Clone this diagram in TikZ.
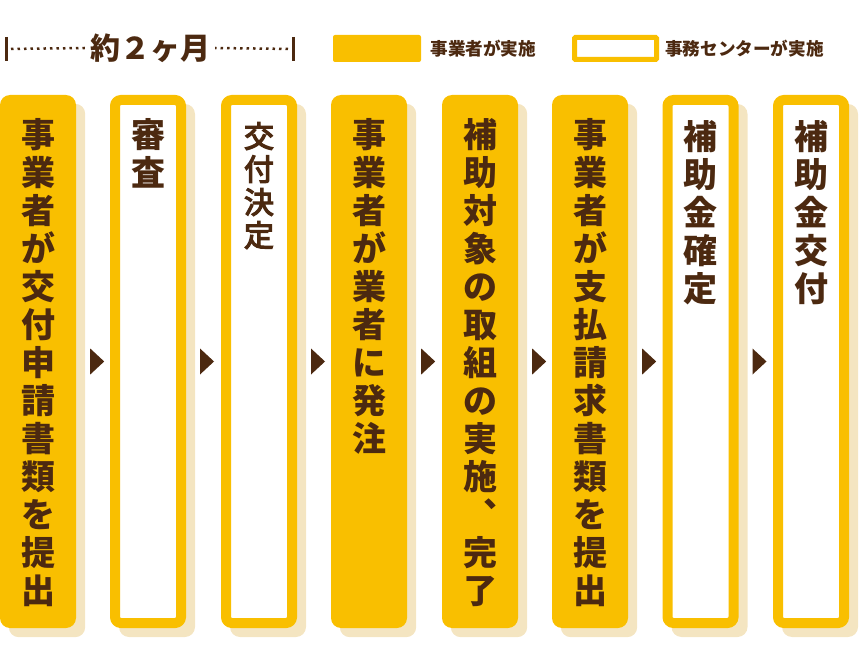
\documentclass[tikz,border=0pt]{standalone}
\usepackage{fontspec}
\newfontfamily\cjk{Noto Sans CJK JP}
\newfontfamily\cjkm{Noto Sans CJK JP}[FakeBold=4]
\usetikzlibrary{calc,backgrounds}
\definecolor{gelb}{RGB}{249,191,0}
\definecolor{schatten}{RGB}{244,229,193}
\definecolor{braun}{RGB}{76,41,16}
\tikzstyle{spalte} = [rectangle, rounded corners=10pt, minimum width=76pt, minimum height=533pt, fill=gelb, inner sep=0pt]
\tikzstyle{spalteweiss} = [rectangle, rounded corners=6pt, minimum width=66pt, minimum height=523pt, fill=white, draw=gelb, line width=10pt, inner sep=0pt]
\tikzstyle{tatetext} = [anchor=north, align=center, inner sep=0pt, text=braun, font=\cjk\bfseries\fontsize{34}{38}\selectfont]
\tikzstyle{legtext} = [anchor=west, inner sep=0pt, text=braun, font=\cjk\bfseries\fontsize{17.6}{18}\selectfont]
% senkrechter Text, ein Zeichen pro Zeile
\def\tate#1#2\relax{#1\if\relax\detokenize{#2}\relax\else\\\tate#2\relax\fi}
\newcommand\tatestr[1]{\expandafter\tate#1\relax}

\begin{document}
\begin{tikzpicture}[x=1pt,y=-1pt]
	\useasboundingbox (0,0) rectangle (860,671);
	% Dauer oben links
	\node[text=braun, inner sep=5pt, font=\cjk\bfseries\fontsize{30}{30}\selectfont] (dauer) at (150,48) {約２ヶ月};
	\coordinate (li) at (6,49);
	\coordinate (re) at (293,49);
	\draw[braun, line width=3pt] ($(li)+(0,-12)$) -- ($(li)+(0,12)$);
	\draw[braun, line width=3pt] ($(re)+(0,-12)$) -- ($(re)+(0,12)$);
	\draw[braun, line width=2.5pt, dash pattern=on 2.5pt off 4pt, shorten <=5pt] (li) -- (dauer.west);
	\draw[braun, line width=2.5pt, dash pattern=on 2.5pt off 4pt, shorten <=5pt] (re) -- (dauer.east);
	% Legende
	\node[rectangle, fill=gelb, rounded corners=2pt, minimum width=88pt, minimum height=27pt] (leg1) at (377,48.5) {};
	\node[legtext] (leg1t) at ($(leg1.east)+(9,0)$) {事業者が実施};
	\node[rectangle, fill=white, draw=gelb, line width=5pt, rounded corners=1pt, minimum width=82pt, minimum height=22pt] (leg2) at (615.5,48.5) {};
	\node[legtext] (leg2t) at ($(leg2.east)+(6,0)$) {事務センターが実施};
	% Spalten
	\foreach \i/\x/\stil in {1/38/spalte, 2/148/spalteweiss, 3/259/spalteweiss, 4/369/spalte, 5/480/spalte, 6/590/spalte, 7/700.5/spalteweiss, 8/811/spalteweiss}
		\node[\stil] (s\i) at (\x,361.5) {};
	% Schatten
	\begin{scope}[on background layer]
		\foreach \i in {1,...,8}
			\fill[schatten, rounded corners=10pt] ($(s\i.north west)+(9,9)$) rectangle ($(s\i.south east)+(9,9)$);
	\end{scope}
	% Pfeile zwischen den Spalten
	\foreach \i in {1,...,7}
		\fill[braun] ($(s\i.east)+(14,-13)$) -- ++(14,13) -- ++(-14,13) -- cycle;
	% Texte
	\node[tatetext] (t1) at ($(s1.north)+(0,23)$) {\tatestr{事業者が交付申請書類を提出}};
	\node[tatetext] (t2) at ($(s2.north)+(0,23)$) {\tatestr{審査}};
	\node[tatetext, font=\cjkm\fontsize{30}{33}\selectfont] (t3) at ($(s3.north)+(0,27)$) {\tatestr{交付決定}};
	\node[tatetext] (t4) at ($(s4.north)+(0,23)$) {\tatestr{事業者が業者に発注}};
	\node[tatetext] (t5) at ($(s5.north)+(0,23)$) {\tatestr{補助対象の取組の実施︑完了}};
	\node[tatetext] (t6) at ($(s6.north)+(0,23)$) {\tatestr{事業者が支払請求書類を提出}};
	\node[tatetext] (t7) at ($(s7.north)+(0,25)$) {\tatestr{補助金確定}};
	\node[tatetext] (t8) at ($(s8.north)+(0,25)$) {\tatestr{補助金交付}};
\end{tikzpicture}
\end{document}
